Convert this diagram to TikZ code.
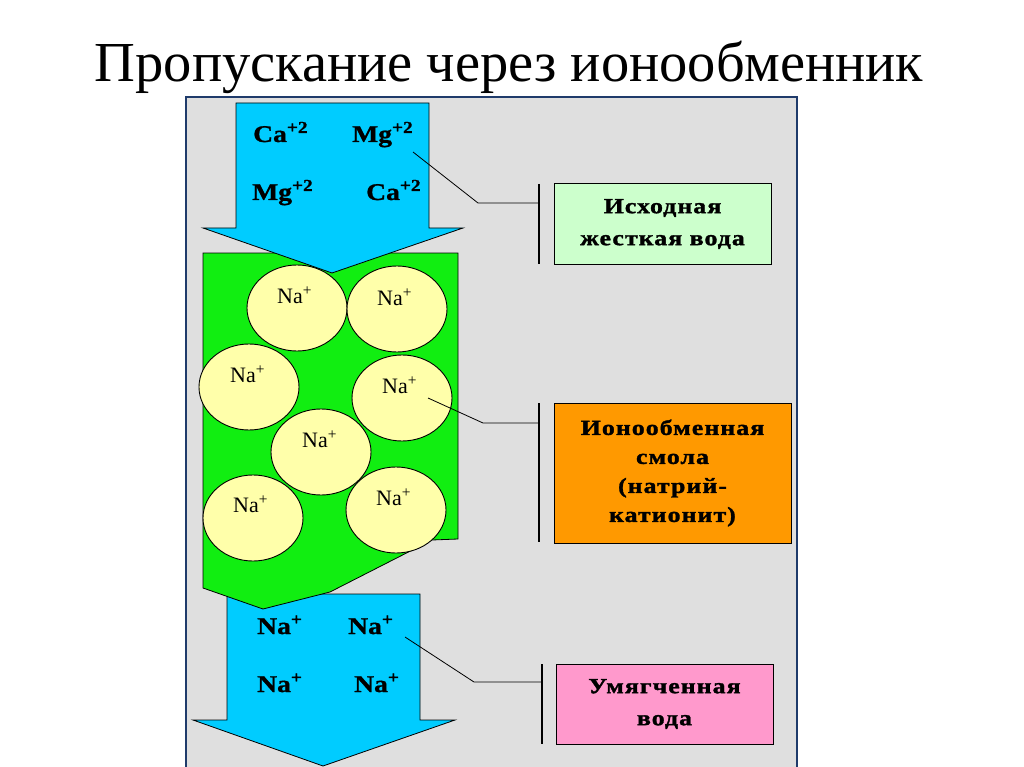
\documentclass[tikz,border=0pt]{standalone}
\usepackage{fontspec}
\setmainfont{Liberation Serif}
\newfontfamily\lblfont[FakeStretch=1.2,LetterSpace=5,BoldFont={Liberation Serif Bold},BoldFeatures={FakeBold=1.5}]{Liberation Serif}
\newfontfamily\ionfont[FakeStretch=1.15,BoldFont={Liberation Serif Bold},BoldFeatures={FakeBold=1}]{Liberation Serif}
\usetikzlibrary{shapes.geometric}
\definecolor{panelgray}{HTML}{DFDFDF}
\definecolor{navy}{HTML}{1F3B6B}
\definecolor{flowblue}{HTML}{00CCFF}
\definecolor{resin}{HTML}{11EE11}
\definecolor{bead}{HTML}{FFFFAA}
\definecolor{boxgreen}{HTML}{CCFFCC}
\definecolor{boxorange}{HTML}{FF9900}
\definecolor{boxpink}{HTML}{FF99CC}
\tikzset{
  flow/.style={fill=flowblue, draw=black, line width=0.8pt, line join=miter},
  beadc/.style={ellipse, fill=bead, draw=black, line width=0.9pt, minimum width=100pt, minimum height=86pt, inner sep=0pt},
  na/.style={anchor=base west, inner sep=0pt, font=\fontsize{22}{24}\selectfont},
  ion/.style={anchor=base west, inner sep=0pt, font=\ionfont\bfseries\fontsize{24}{28}\selectfont},
  infobox/.style={draw=black, line width=1pt, align=center, inner sep=0pt, font=\lblfont\bfseries\fontsize{21.5}{32}\selectfont},
  bar/.style={line width=2pt},
  leader/.style={line width=0.8pt}
}
\begin{document}
\begin{tikzpicture}[x=1pt,y=-1pt]
\useasboundingbox (0,0) rectangle (1024,767);
\fill[white] (0,0) rectangle (1024,767);
% title
\node[anchor=base, inner sep=0pt, font=\fontsize{56.5}{60}\selectfont] (title) at (509,82) {Пропускание через ионообменник};
% panel
\fill[panelgray] (186,97) rectangle (797,767);
\draw[navy, line width=2.5pt] (186,767) -- (186,97) -- (797,97) -- (797,767);
% bottom arrow
\draw[flow] (227,594) -- (420,594) -- (420,720) -- (455,720) -- (323,766) -- (193,720) -- (227,720) -- cycle;
% resin
\draw[fill=resin, draw=black, line width=0.8pt] (203,253) -- (458,253) -- (458,539) -- (432,540) -- (330,592) -- (263,609) -- (203,588) -- cycle;
% beads
\node[beadc] (b1) at (297,308) {};
\node[beadc] (b2) at (397,309) {};
\node[beadc] (b3) at (249,387) {};
\node[beadc] (b4) at (402,398) {};
\node[beadc] (b5) at (321,452) {};
\node[beadc] (b6) at (253,518) {};
\node[beadc] (b7) at (396,510) {};
\node[na] (n1) at (277,303) {Na\textsuperscript{+}};
\node[na] (n2) at (377,305) {Na\textsuperscript{+}};
\node[na] (n3) at (230,382) {Na\textsuperscript{+}};
\node[na] (n4) at (382,393) {Na\textsuperscript{+}};
\node[na] (n5) at (302,447) {Na\textsuperscript{+}};
\node[na] (n6) at (233,512) {Na\textsuperscript{+}};
\node[na] (n7) at (376,505) {Na\textsuperscript{+}};
% top arrow
\draw[flow] (236,103) -- (429,103) -- (429,228) -- (463,228) -- (332,273) -- (203,228) -- (236,228) -- cycle;
\node[ion] (ca1) at (253,142) {Ca\textsuperscript{+2}};
\node[ion] (mg1) at (352,142) {Mg\textsuperscript{+2}};
\node[ion] (mg2) at (252,200) {Mg\textsuperscript{+2}};
\node[ion] (ca2) at (366,200) {Ca\textsuperscript{+2}};
% bottom arrow labels
\node[ion] (o1) at (257,634) {Na\textsuperscript{+}};
\node[ion] (o2) at (348,634) {Na\textsuperscript{+}};
\node[ion] (o3) at (257,692) {Na\textsuperscript{+}};
\node[ion] (o4) at (354,692) {Na\textsuperscript{+}};
% info boxes
\node[infobox, fill=boxgreen, minimum width=217pt, minimum height=80pt] (hard) at (662.5,224) {Исходная\\жесткая вода};
\node[infobox, fill=boxorange, minimum width=237pt, minimum height=140pt, font=\lblfont\bfseries\fontsize{21.5}{29}\selectfont] (resinbox) at (672.5,473) {Ионообменная\\смола\\(натрий-\\катионит)};
\node[infobox, fill=boxpink, minimum width=217pt, minimum height=80pt] (soft) at (664.5,704) {Умягченная\\вода};
% leaders
\coordinate (p1) at (413,152); \coordinate (k1) at (478,203);
\coordinate (t1) at (539,184); \coordinate (u1) at (539,264);
\coordinate (p2) at (428,398); \coordinate (k2) at (483,423);
\coordinate (t2) at (539,403); \coordinate (u2) at (539,542);
\coordinate (p3) at (405,637); \coordinate (k3) at (474,682);
\coordinate (t3) at (542,664); \coordinate (u3) at (542,744);
\draw[bar] (t1) -- (u1);
\draw[bar] (t2) -- (u2);
\draw[bar] (t3) -- (u3);
\draw[leader] (p1) -- (k1) -- (k1 -| t1);
\draw[leader] (p2) -- (k2) -- (k2 -| t2);
\draw[leader] (p3) -- (k3) -- (k3 -| t3);
\end{tikzpicture}
\end{document}
